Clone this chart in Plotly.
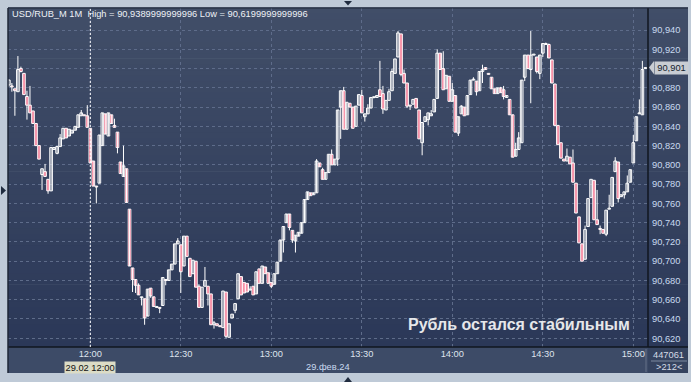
import pandas as pd
import plotly.graph_objects as go

# ---------------- data (USD/RUB_M, 1-minute candles, 29.02.2024) ----------------
start_time = "2024-02-29 11:33"

opens = [90.883, 90.882, 90.879, 90.876, 90.900, 90.895, 90.871, 90.862, 90.856, 90.843,
         90.820, 90.790, 90.793, 90.785, 90.773, 90.816, 90.812, 90.819, 90.827, 90.838,
         90.830, 90.833, 90.836, 90.839, 90.851, 90.852, 90.851, 90.838, 90.804, 90.778,
         90.781, 90.820, 90.853, 90.830, 90.852, 90.841, 90.834, 90.803, 90.788, 90.796,
         90.754, 90.693, 90.681, 90.675, 90.662, 90.661, 90.643, 90.672, 90.663, 90.652,
         90.652, 90.654, 90.681, 90.680, 90.691, 90.697, 90.718, 90.717, 90.695, 90.726,
         90.703, 90.687, 90.700, 90.674, 90.652, 90.674, 90.674, 90.666, 90.634, 90.635,
         90.633, 90.631, 90.668, 90.621, 90.641, 90.649, 90.661, 90.684, 90.678, 90.677,
         90.670, 90.674, 90.666, 90.692, 90.677, 90.694, 90.688, 90.678, 90.676, 90.687,
         90.700, 90.722, 90.740, 90.749, 90.732, 90.721, 90.726, 90.729, 90.740, 90.764,
         90.771, 90.769, 90.771, 90.802, 90.795, 90.785, 90.792, 90.811, 90.800, 90.806,
         90.860, 90.877, 90.837, 90.864, 90.860, 90.840, 90.862, 90.872, 90.850, 90.853,
         90.859, 90.870, 90.870, 90.878, 90.874, 90.857, 90.867, 90.877, 90.895, 90.912,
         90.936, 90.895, 90.885, 90.861, 90.863, 90.869, 90.857, 90.823, 90.845, 90.847,
         90.851, 90.855, 90.869, 90.916, 90.900, 90.879, 90.892, 90.866, 90.872, 90.833,
         90.853, 90.860, 90.852, 90.873, 90.888, 90.887, 90.877, 90.897, 90.901, 90.895,
         90.891, 90.879, 90.874, 90.880, 90.878, 90.870, 90.868, 90.852, 90.809, 90.816,
         90.823, 90.891, 90.914, 90.899, 90.914, 90.912, 90.895, 90.916, 90.925, 90.925,
         90.909, 90.884, 90.841, 90.823, 90.806, 90.804, 90.808, 90.802, 90.781, 90.746,
         90.718, 90.702, 90.736, 90.766, 90.784, 90.743, 90.734, 90.733, 90.728, 90.754,
         90.757, 90.793, 90.803, 90.767, 90.769, 90.772, 90.782, 90.802, 90.825, 90.853,
         90.852, 90.900]

highs = [90.889, 90.885, 90.879, 90.913, 90.902, 90.895, 90.877, 90.882, 90.856, 90.843,
         90.820, 90.796, 90.801, 90.785, 90.818, 90.818, 90.819, 90.832, 90.838, 90.838,
         90.837, 90.836, 90.840, 90.852, 90.857, 90.852, 90.862, 90.838, 90.804, 90.778,
         90.831, 90.854, 90.853, 90.854, 90.852, 90.848, 90.834, 90.803, 90.820, 90.796,
         90.754, 90.693, 90.681, 90.677, 90.663, 90.661, 90.671, 90.672, 90.663, 90.653,
         90.652, 90.683, 90.681, 90.691, 90.697, 90.718, 90.724, 90.717, 90.726, 90.726,
         90.703, 90.701, 90.700, 90.676, 90.673, 90.694, 90.674, 90.666, 90.638, 90.635,
         90.633, 90.669, 90.668, 90.635, 90.645, 90.656, 90.687, 90.684, 90.678, 90.677,
         90.674, 90.674, 90.689, 90.692, 90.695, 90.694, 90.688, 90.678, 90.687, 90.699,
         90.722, 90.736, 90.749, 90.749, 90.732, 90.727, 90.730, 90.740, 90.764, 90.772,
         90.771, 90.771, 90.806, 90.802, 90.797, 90.792, 90.811, 90.816, 90.806, 90.857,
         90.877, 90.881, 90.865, 90.864, 90.860, 90.861, 90.873, 90.878, 90.853, 90.863,
         90.870, 90.871, 90.872, 90.908, 90.882, 90.867, 90.879, 90.900, 90.910, 90.939,
         90.936, 90.899, 90.885, 90.862, 90.868, 90.869, 90.857, 90.844, 90.850, 90.854,
         90.857, 90.868, 90.920, 90.916, 90.918, 90.893, 90.892, 90.885, 90.872, 90.850,
         90.862, 90.860, 90.872, 90.888, 90.891, 90.887, 90.897, 90.904, 90.901, 90.895,
         90.891, 90.879, 90.880, 90.881, 90.882, 90.872, 90.868, 90.852, 90.823, 90.834,
         90.888, 90.914, 90.914, 90.939, 90.915, 90.912, 90.914, 90.926, 90.927, 90.926,
         90.909, 90.884, 90.841, 90.823, 90.806, 90.817, 90.808, 90.816, 90.781, 90.746,
         90.718, 90.737, 90.765, 90.785, 90.784, 90.774, 90.737, 90.733, 90.753, 90.769,
         90.787, 90.808, 90.803, 90.769, 90.772, 90.789, 90.795, 90.831, 90.850, 90.868,
         90.908, 90.901]

lows = [90.881, 90.876, 90.851, 90.876, 90.896, 90.873, 90.847, 90.854, 90.843, 90.820,
        90.806, 90.774, 90.788, 90.770, 90.773, 90.816, 90.811, 90.819, 90.827, 90.828,
        90.830, 90.833, 90.836, 90.839, 90.851, 90.851, 90.839, 90.802, 90.778, 90.760,
        90.781, 90.820, 90.832, 90.830, 90.843, 90.839, 90.812, 90.791, 90.788, 90.761,
        90.695, 90.668, 90.667, 90.665, 90.654, 90.634, 90.643, 90.662, 90.653, 90.652,
        90.646, 90.654, 90.675, 90.680, 90.691, 90.697, 90.718, 90.667, 90.695, 90.705,
        90.684, 90.687, 90.673, 90.652, 90.652, 90.674, 90.654, 90.634, 90.630, 90.633,
        90.632, 90.631, 90.620, 90.621, 90.641, 90.646, 90.661, 90.665, 90.667, 90.668,
        90.670, 90.665, 90.666, 90.677, 90.677, 90.687, 90.677, 90.672, 90.676, 90.687,
        90.700, 90.709, 90.740, 90.732, 90.719, 90.709, 90.726, 90.729, 90.740, 90.764,
        90.768, 90.769, 90.771, 90.798, 90.785, 90.785, 90.792, 90.800, 90.800, 90.799,
        90.827, 90.837, 90.837, 90.860, 90.838, 90.840, 90.862, 90.854, 90.845, 90.853,
        90.859, 90.869, 90.870, 90.871, 90.853, 90.857, 90.867, 90.877, 90.895, 90.912,
        90.892, 90.885, 90.859, 90.857, 90.863, 90.859, 90.827, 90.810, 90.845, 90.841,
        90.851, 90.855, 90.869, 90.899, 90.878, 90.879, 90.866, 90.866, 90.834, 90.830,
        90.853, 90.851, 90.852, 90.873, 90.888, 90.872, 90.877, 90.885, 90.899, 90.894,
        90.879, 90.874, 90.874, 90.875, 90.868, 90.870, 90.852, 90.808, 90.809, 90.816,
        90.823, 90.887, 90.900, 90.864, 90.914, 90.895, 90.889, 90.912, 90.925, 90.911,
        90.885, 90.841, 90.821, 90.807, 90.804, 90.804, 90.801, 90.782, 90.750, 90.719,
        90.700, 90.702, 90.736, 90.766, 90.743, 90.738, 90.728, 90.729, 90.726, 90.754,
        90.757, 90.793, 90.761, 90.767, 90.765, 90.772, 90.782, 90.802, 90.825, 90.853,
        90.852, 90.900]

closes = [90.888, 90.881, 90.877, 90.899, 90.897, 90.873, 90.862, 90.854, 90.843, 90.820,
          90.806, 90.796, 90.788, 90.773, 90.818, 90.818, 90.819, 90.828, 90.838, 90.828,
          90.837, 90.836, 90.840, 90.852, 90.854, 90.851, 90.839, 90.802, 90.778, 90.777,
          90.831, 90.854, 90.832, 90.854, 90.843, 90.839, 90.818, 90.791, 90.799, 90.761,
          90.695, 90.681, 90.675, 90.665, 90.663, 90.641, 90.671, 90.664, 90.653, 90.653,
          90.651, 90.683, 90.680, 90.691, 90.697, 90.718, 90.721, 90.689, 90.726, 90.705,
          90.684, 90.701, 90.673, 90.652, 90.673, 90.680, 90.666, 90.634, 90.636, 90.633,
          90.632, 90.669, 90.622, 90.635, 90.645, 90.656, 90.687, 90.665, 90.667, 90.668,
          90.671, 90.665, 90.689, 90.677, 90.695, 90.687, 90.677, 90.674, 90.687, 90.699,
          90.722, 90.736, 90.749, 90.735, 90.722, 90.727, 90.730, 90.740, 90.764, 90.772,
          90.768, 90.771, 90.804, 90.798, 90.785, 90.792, 90.811, 90.800, 90.806, 90.857,
          90.877, 90.837, 90.865, 90.860, 90.838, 90.861, 90.873, 90.854, 90.853, 90.859,
          90.870, 90.870, 90.872, 90.871, 90.858, 90.867, 90.876, 90.897, 90.910, 90.937,
          90.894, 90.885, 90.861, 90.862, 90.868, 90.859, 90.827, 90.844, 90.850, 90.854,
          90.853, 90.868, 90.916, 90.899, 90.878, 90.893, 90.866, 90.878, 90.834, 90.850,
          90.861, 90.851, 90.872, 90.888, 90.889, 90.876, 90.897, 90.899, 90.899, 90.894,
          90.879, 90.874, 90.880, 90.875, 90.871, 90.872, 90.852, 90.808, 90.816, 90.828,
          90.888, 90.914, 90.900, 90.914, 90.915, 90.897, 90.914, 90.926, 90.926, 90.911,
          90.885, 90.841, 90.821, 90.807, 90.804, 90.809, 90.801, 90.782, 90.750, 90.719,
          90.700, 90.733, 90.765, 90.785, 90.743, 90.738, 90.733, 90.729, 90.753, 90.755,
          90.787, 90.804, 90.765, 90.769, 90.772, 90.781, 90.795, 90.823, 90.850, 90.854,
          90.899, 90.901]

x_tick_times = ["2024-02-29 12:00", "2024-02-29 12:30", "2024-02-29 13:00", "2024-02-29 13:30",
                "2024-02-29 14:00", "2024-02-29 14:30", "2024-02-29 15:00"]
x_tick_labels = ["12:00", "12:30", "13:00", "13:30", "14:00", "14:30", "15:00"]
y_ticks = [90.62, 90.64, 90.66, 90.68, 90.70, 90.72, 90.74, 90.76, 90.78, 90.80,
           90.82, 90.84, 90.86, 90.88, 90.90, 90.92, 90.94]
y_tick_labels = ["90,620", "90,640", "90,660", "90,680", "90,700", "90,720", "90,740",
                 "90,760", "90,780", "90,800", "90,820", "90,840", "90,860", "90,880",
                 "90,900", "90,920", "90,940"]

title_text = "USD/RUB_M 1M  High = 90,9389999999996 Low = 90,6199999999996"
caption_text = "Рубль остался стабильным"
cursor_time = "2024-02-29 12:00"
cursor_label = "29.02 12:00"
date_label = "29.фев.24"
volume_label = "447061"
count_label = ">212<"

times = pd.date_range(start_time, periods=len(closes), freq="min")
last = closes[-1]

# ---------------- layout geometry (pixels) ----------------
W, H = 691, 382
L, R, T, B = 8, 43, 8, 35
PW, PH = W - L - R, H - T - B


def px(x):
    return (x - L) / PW


def py(y):
    return (H - B - y) / PH


FONT = "Liberation Sans"
FS = 9.3
BODY_MS = 53000  # candle body width in milliseconds
MIN_BODY = 0.0007

fig = go.Figure()

# wicks
wx, wy = [], []
for t, lo, hi in zip(times, lows, highs):
    wx += [t, t, None]
    wy += [lo, hi, None]
fig.add_trace(go.Scatter(x=wx, y=wy, mode="lines", line=dict(color="#ffffff", width=1),
                         hoverinfo="skip", showlegend=False))

# bodies: rising (hollow) and falling (red)
for rising, fill in ((True, "rgba(0,0,0,0)"), (False, "#ec0a3c")):
    bx, bbase, bh = [], [], []
    for t, o, c in zip(times, opens, closes):
        if (c >= o) == rising:
            bx.append(t)
            bbase.append(min(o, c))
            bh.append(max(abs(c - o), MIN_BODY))
    fig.add_trace(go.Bar(x=bx, y=bh, base=bbase, width=BODY_MS,
                         marker=dict(color=fill, line=dict(color="#ffffff", width=1)),
                         hoverinfo="skip", showlegend=False))

shapes = []
# vertical gradient of the dark panel (plot + right scale)
n = 60
top_c = (65, 78, 104)
bot_c = (43, 56, 88)
for i in range(n):
    t = (i + 0.5) / n
    c = tuple(round(bot_c[k] + (top_c[k] - bot_c[k]) * t) for k in range(3))
    shapes.append(dict(type="rect", xref="paper", yref="paper",
                       x0=px(L), x1=px(688), y0=i / n, y1=(i + 1) / n + 0.002,
                       fillcolor="rgb(%d,%d,%d)" % c, line=dict(width=0), layer="below"))
# x-axis strip and bottom-right info box
shapes.append(dict(type="rect", xref="paper", yref="paper", x0=px(L), x1=px(648),
                   y0=py(373), y1=py(347), fillcolor="#3d4b67", line=dict(width=0), layer="below"))
shapes.append(dict(type="rect", xref="paper", yref="paper", x0=px(648), x1=px(688),
                   y0=py(373), y1=py(347), fillcolor="#35435f", line=dict(width=0), layer="below"))
# borders
border = "#10161f"
shapes += [
    dict(type="line", xref="paper", yref="paper", x0=px(L), x1=px(688), y0=py(347), y1=py(347),
         line=dict(color=border, width=1.5), layer="above"),
    dict(type="line", xref="paper", yref="paper", x0=px(648), x1=px(648), y0=py(347), y1=py(T),
         line=dict(color=border, width=1.5), layer="above"),
    dict(type="line", xref="paper", yref="paper", x0=px(L), x1=px(L), y0=py(373), y1=py(T),
         line=dict(color="#1e2636", width=1.5), layer="above"),
    dict(type="line", xref="paper", yref="paper", x0=px(L), x1=px(688), y0=py(T), y1=py(T),
         line=dict(color="#1e2636", width=1), layer="above"),
    dict(type="line", xref="paper", yref="paper", x0=px(646), x1=px(646), y0=py(372), y1=py(349),
         line=dict(color="#667389", width=1), layer="above"),
    dict(type="line", xref="paper", yref="paper", x0=px(651), x1=px(687), y0=py(361), y1=py(361),
         line=dict(color="#7d8aa0", width=1), layer="above"),
]
# cursor line at 12:00
shapes.append(dict(type="line", xref="x", yref="paper", x0=cursor_time, x1=cursor_time, y0=0, y1=1,
                   line=dict(color="#ffffff", width=1, dash="2px,2px"), layer="above"))
# small navigation triangles on the frame
tri = "#1f2b3e"
shapes += [
    dict(type="path", xref="paper", yref="paper",
         path="M %f %f L %f %f L %f %f Z" % (px(344), py(1), px(352), py(1), px(348), py(5.5)),
         fillcolor=tri, line=dict(width=0)),
    dict(type="path", xref="paper", yref="paper",
         path="M %f %f L %f %f L %f %f Z" % (px(344), py(382), px(352), py(382), px(348), py(377)),
         fillcolor=tri, line=dict(width=0)),
    dict(type="path", xref="paper", yref="paper",
         path="M %f %f L %f %f L %f %f Z" % (px(1), py(186), px(1), py(195), px(6), py(190.5)),
         fillcolor=tri, line=dict(width=0)),
]
# pointer of the last-price label
dy = 0.0068
shapes.append(dict(type="path", xref="paper", yref="y",
                   path="M %f %f L %f %f L %f %f Z" % (px(649), last, px(654), last + dy, px(654), last - dy),
                   fillcolor="#c9cdd3", line=dict(width=0), layer="above"))

# the last-price label hides the scale label that it covers
shown_tick_labels = [("" if abs(v - last) < 0.012 else s) for v, s in zip(y_ticks, y_tick_labels)]

annotations = [
    dict(text=title_text, xref="paper", yref="paper", x=px(10), y=py(14.5), xanchor="left",
         yanchor="middle", showarrow=False, font=dict(family=FONT, size=FS, color="#eef1f6")),
    dict(text="<b>" + caption_text + "</b>", xref="paper", yref="paper", x=px(632), y=py(324),
         xanchor="right", yanchor="middle", showarrow=False,
         font=dict(family=FONT, size=16, color="#e6e7ea")),
    dict(text=cursor_label, xref="x", yref="paper", x=cursor_time, y=py(367), xanchor="center",
         yanchor="middle", showarrow=False, bgcolor="#dcdcc6", borderpad=0.5,
         font=dict(family=FONT, size=FS, color="#111111")),
    dict(text=date_label, xref="paper", yref="paper", x=px(328), y=py(367), xanchor="center",
         yanchor="middle", showarrow=False, font=dict(family=FONT, size=FS, color="#c9d9f0")),
    dict(text=volume_label, xref="paper", yref="paper", x=px(668.5), y=py(355), xanchor="center",
         yanchor="middle", showarrow=False, font=dict(family=FONT, size=FS, color="#d4dbe6")),
    dict(text=count_label, xref="paper", yref="paper", x=px(668.5), y=py(367.5), xanchor="center",
         yanchor="middle", showarrow=False, font=dict(family=FONT, size=FS, color="#d4dbe6")),
    dict(text=f"{last:.3f}".replace(".", ","), xref="paper", yref="y",
         x=px(653.5), y=last, xanchor="left", yanchor="middle", showarrow=False,
         bgcolor="#c9cdd3", borderpad=1, width=31,
         font=dict(family=FONT, size=FS, color="#141c2c")),
]

grid_c = "#5e6c8a"
fig.update_layout(
    width=W, height=H,
    margin=dict(l=L, r=R, t=T, b=B, pad=0),
    paper_bgcolor="#bfcad7",
    plot_bgcolor="rgba(0,0,0,0)",
    showlegend=False,
    barmode="overlay",
    shapes=shapes,
    annotations=annotations,
    xaxis=dict(
        type="date",
        range=["2024-02-29 11:32:43", "2024-02-29 15:04:52"],
        tickvals=x_tick_times, ticktext=x_tick_labels,
        tickfont=dict(family=FONT, size=FS, color="#dde3ec"),
        showgrid=True, gridcolor=grid_c, griddash="3px,3px", gridwidth=1,
        zeroline=False, showline=False, ticks="",
        fixedrange=True,
    ),
    yaxis=dict(
        side="right",
        range=[90.6109, 90.9629],
        tickvals=y_ticks, ticktext=shown_tick_labels,
        tickfont=dict(family=FONT, size=FS, color="#c9d9f0"),
        showgrid=True, gridcolor=grid_c, griddash="3px,3px", gridwidth=1,
        zeroline=False, showline=False, ticks="", ticklabelstandoff=3,
        fixedrange=True,
    ),
)

fig.write_html("out.html", config={"displayModeBar": False},
               post_script="document.body.style.margin='0px';")
